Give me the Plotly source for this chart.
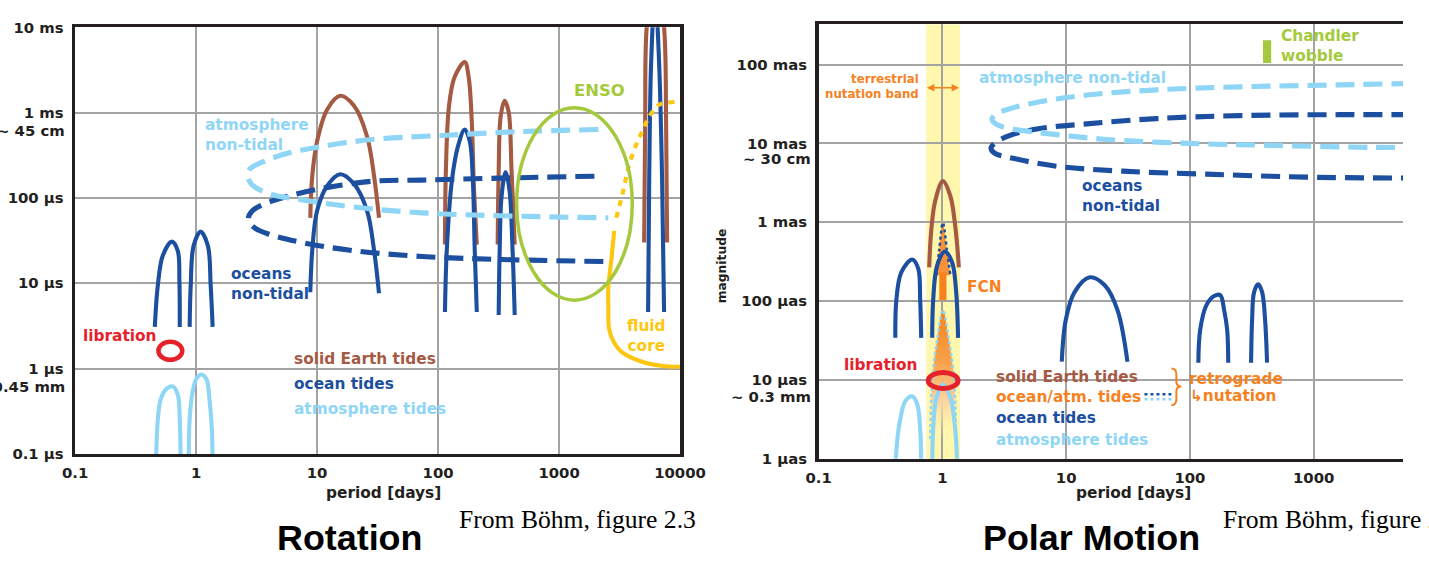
import plotly.graph_objects as go

W, H = 1429, 565

# ---------------- Rotation panel: period [days], amplitude [microseconds] ----------------
rot_tickvals = [0.1, 1, 10, 100, 1000, 10000]
rot_x_ticktext = ["0.1", "1", "10", "100", "1000", "10000"]
rot_y_ticktext = ["0.1 µs", "1 µs", "10 µs", "100 µs", "1 ms", "10 ms"]

# ocean tides
rot_ot_sd_p = [0.456, 0.483, 0.531, 0.630, 0.705, 0.728, 0.733]
rot_ot_sd_a = [3.08, 9.5, 21.2, 30.8, 24.2, 10.8, 3.08]
rot_ot_d_p = [0.885, 0.903, 0.955, 1.09, 1.25, 1.32, 1.37]
rot_ot_d_a = [3.08, 9.5, 27.7, 40.3, 27.7, 9.5, 3.08]
rot_ot_fm_p = [8.79, 9.12, 10.0, 12.1, 15.5, 20.2, 25.9, 29.6, 32.5]
rot_ot_fm_a = [7.86, 24.2, 70.6, 138, 190, 146, 70.6, 24.2, 7.65]
rot_ot_sa_p = [114, 118, 130, 146, 166, 183, 194, 201, 209]
rot_ot_sa_a = [4.6, 24.2, 158, 402, 634, 460, 158, 24.2, 4.6]
rot_ot_a_p = [317, 323, 335, 362, 390, 413, 430]
rot_ot_a_a = [4.25, 24.2, 105, 201, 121, 24.2, 4.25]
rot_ot_ln_p = [5445, 5560, 5770, 6220, 6710, 7110, 7380]
rot_ot_ln_a = [4.6, 158, 3920, 25500, 3920, 158, 4.6]
# solid Earth tides
rot_se_fm_p = [8.79, 9.12, 10.0, 12.1, 15.5, 20.2, 25.9, 29.6, 32.5]
rot_se_fm_a = [58.5, 180, 460, 1084, 1577, 1206, 526, 180, 58.5]
rot_se_sa_p = [114, 116, 123, 137, 166, 179, 190, 197, 209]
rot_se_sa_a = [28.4, 206, 1175, 2620, 3920, 2620, 786, 158, 28.4]
rot_se_a_p = [311, 317, 329, 355, 383, 405, 430]
rot_se_a_a = [28.4, 206, 898, 1379, 1028, 206, 28.4]
rot_se_ln_p = [5050, 5150, 5300, 6220, 7380, 7670, 7820]
rot_se_ln_a = [30, 786, 10000, 57000, 10000, 786, 30]
# atmosphere tides
rot_at_sd_p = [0.465, 0.483, 0.510, 0.562, 0.641, 0.705, 0.733, 0.746]
rot_at_sd_a = [0.067, 0.255, 0.437, 0.570, 0.618, 0.499, 0.255, 0.067]
rot_at_d_p = [0.869, 0.885, 0.938, 1.01, 1.11, 1.22, 1.29, 1.35, 1.37]
rot_at_d_a = [0.067, 0.255, 0.541, 0.766, 0.851, 0.745, 0.437, 0.195, 0.067]
# non-tidal loops
rot_atm_nt_p = [2113, 490, 107, 28.5, 11.0, 5.69, 3.67, 2.82, 2.66, 2.92, 4.12, 7.55, 19.5, 73.6, 335, 2553]
rot_atm_nt_a = [634, 601, 540, 485, 402, 334, 269, 223, 185, 142, 111, 94.8, 78.6, 66.9, 61.8, 58.5]
rot_oc_nt_p = [1959, 335, 73.6, 30.2, 12.6, 6.25, 3.67, 2.92, 2.71, 3.04, 4.12, 7.55, 19.5, 73.6, 335, 2323]
rot_oc_nt_a = [180, 171, 162, 158, 134, 108, 85.1, 70.6, 57.0, 44.8, 37.1, 30.0, 24.2, 20.6, 19.0, 18.0]
# fluid core
rot_fc_dot_p = [2972, 3390, 3730, 4343, 4955, 5560, 6710, 9270, 10190]
rot_fc_dot_a = [58.5, 121, 223, 424, 634, 898, 1239, 1343, 1379]
rot_fc_p = [2858, 2702, 2553, 2553, 2600, 2858, 3266, 4775, 6970, 10190]
rot_fc_a = [41.3, 18.5, 8.98, 5.85, 2.84, 2.01, 1.58, 1.21, 1.08, 1.05]
# ENSO and libration outlines (bounding periods / amplitudes)
rot_enso_p = [446, 4027]
rot_enso_a = [6.34, 1143]
rot_lib_p = [0.488, 0.769]
rot_lib_a = [1.27, 2.06]

# ---------------- Polar motion panel: period [days], amplitude [micro-arcseconds] ----------------
pm_x_tickvals = [0.1, 1, 10, 100, 1000]
pm_x_ticktext = ["0.1", "1", "10", "100", "1000"]
pm_y_tickvals = [1, 10, 100, 1000, 10000, 100000]
pm_y_ticktext = ["1 µas", "10 µas", "100 µas", "1 mas", "10 mas", "100 mas"]

pm_ot_sd_p = [0.417, 0.425, 0.466, 0.571, 0.638, 0.662, 0.675]
pm_ot_sd_a = [33.9, 102, 230, 335, 258, 102, 33.9]
pm_ot_d_p = [0.828, 0.843, 0.908, 1.05, 1.20, 1.29, 1.34]
pm_ot_d_a = [33.9, 102, 282, 423, 307, 136, 33.9]
pm_ot_fm_p = [9.22, 9.93, 11.7, 15.5, 20.5, 26.0, 31.3]
pm_ot_fm_a = [16.9, 57.1, 129, 199, 158, 76.4, 16.9]
pm_ot_sa_p = [117, 121, 136, 157, 176, 189, 200, 204]
pm_ot_sa_a = [16.4, 42.8, 88.3, 115, 118, 76.4, 42.8, 16.4]
pm_ot_a_p = [312, 318, 330, 356, 383, 405, 420]
pm_ot_a_a = [16.4, 57.1, 129, 162, 129, 57.1, 16.4]
pm_ot_ln_p = [5520, 5630, 5950, 6410, 6780, 7030, 7160]
pm_ot_ln_a = [13.4, 57.1, 182, 251, 182, 57.1, 13.4]
pm_se_d_p = [0.783, 0.813, 0.875, 1.01, 1.16, 1.27, 1.36]
pm_se_d_a = [266, 777, 1855, 3311, 2143, 898, 266]
pm_oa_up_p = [0.891, 0.942, 1.01, 1.09, 1.16]
pm_oa_up_a = [211, 435, 980, 435, 211]
pm_oa_lo_p = [0.798, 0.813, 0.843, 0.908, 1.01, 1.13, 1.22, 1.27, 1.29]
pm_oa_lo_a = [1.76, 5.62, 13.4, 32.0, 76.4, 32.0, 13.4, 5.62, 1.76]
pm_at_sd_p = [0.417, 0.433, 0.457, 0.501, 0.571, 0.627, 0.662, 0.675]
pm_at_sd_a = [0.738, 1.76, 3.14, 5.30, 6.13, 4.86, 2.35, 0.738]
pm_at_d_p = [0.828, 0.843, 0.891, 1.01, 1.16, 1.27, 1.32]
pm_at_d_a = [0.738, 2.35, 5.62, 8.67, 5.95, 2.35, 0.738]
pm_fcn_p = [1.01, 1.01]
pm_fcn_a = [102, 230]
pm_cw_p = [420, 420]
pm_cw_a = [104400, 203600]
pm_atm_nt_p = [10190, 1596, 250, 53.6, 15.5, 6.12, 3.52, 2.66, 2.52, 2.76, 3.52, 8.40, 21.2, 98.9, 461, 2944, 10190]
pm_atm_nt_a = [58500, 55200, 52100, 47700, 41300, 33700, 27500, 23100, 20000, 17300, 15400, 12900, 11200, 9970, 9410, 8880, 8880]
pm_oc_nt_p = [10190, 1596, 250, 53.6, 15.5, 6.12, 3.52, 2.71, 2.47, 2.66, 3.72, 8.40, 28.6, 136, 865, 10190]
pm_oc_nt_a = [23100, 23100, 22500, 20600, 17800, 15400, 12600, 10300, 8630, 7460, 6450, 5120, 4430, 4060, 3720, 3610]
pm_lib_p = [0.769, 1.34]
pm_lib_a = [7.73, 12.3]
pm_band_p = [0.741, 1.39]

# ---------------- styles ----------------
DB = "#1c4f9f"
LB = "#8fd6f6"
BR = "#a55a44"
RED = "#e5222b"
GRN = "#a5c93c"
YEL = "#fdc70f"
ORG = "#f5821f"
BAND = "#fff7ae"
GRID = "#a3a3a3"
AX = "#231f20"
SANS = "DejaVu Sans"
TITLE = "Liberation Sans, Arial"
SERIF = "Liberation Serif, Times New Roman"
DASH = "19px,9px"

# framing of the photographed page (page -> picture: offset + scale)
OX, OY, S = 9.7, 6.5, 0.976


def PX(x):
    return ((x - OX) / S) / W


def PY(y):
    return 1 - ((y - OY) / S) / H


def F(size):
    return size / S


def curve(x, y, color, width=4, xa="x", ya="y", dash=None, smooth=1.0):
    return go.Scatter(x=x, y=y, mode="lines", xaxis=xa, yaxis=ya, hoverinfo="skip",
                      showlegend=False,
                      line=dict(color=color, width=F(width), dash=dash, shape="spline",
                                smoothing=smooth))


fig = go.Figure()

# Rotation traces
for p, a in [(rot_se_fm_p, rot_se_fm_a), (rot_se_sa_p, rot_se_sa_a),
             (rot_se_a_p, rot_se_a_a), (rot_se_ln_p, rot_se_ln_a)]:
    fig.add_trace(curve(p, a, BR))
for p, a in [(rot_ot_sd_p, rot_ot_sd_a), (rot_ot_d_p, rot_ot_d_a), (rot_ot_fm_p, rot_ot_fm_a),
             (rot_ot_sa_p, rot_ot_sa_a), (rot_ot_a_p, rot_ot_a_a), (rot_ot_ln_p, rot_ot_ln_a)]:
    fig.add_trace(curve(p, a, DB))
for p, a in [(rot_at_sd_p, rot_at_sd_a), (rot_at_d_p, rot_at_d_a)]:
    fig.add_trace(curve(p, a, LB))
fig.add_trace(curve(rot_oc_nt_p, rot_oc_nt_a, DB, width=5, dash=DASH))
fig.add_trace(curve(rot_atm_nt_p, rot_atm_nt_a, LB, width=5, dash=DASH))
fig.add_trace(curve(rot_fc_dot_p, rot_fc_dot_a, YEL, width=4, dash="6px,6px"))
fig.add_trace(curve(rot_fc_p, rot_fc_a, YEL, width=4))

# Polar motion traces
fig.add_trace(go.Scatter(x=pm_oa_up_p, y=pm_oa_up_a, xaxis="x2", yaxis="y2", mode="lines",
                         fill="toself", fillcolor="#f7913a", hoverinfo="skip", showlegend=False,
                         line=dict(color=DB, width=2.5, dash="dot", shape="spline")))
fig.add_trace(go.Scatter(x=pm_oa_lo_p, y=pm_oa_lo_a, xaxis="x2", yaxis="y2", mode="lines",
                         fill="toself", hoverinfo="skip", showlegend=False,
                         fillgradient=dict(type="vertical",
                                           colorscale=[[0, "rgba(255,247,174,0)"], [0.3, "#fbd3a0"],
                                                       [0.6, "#f8a14a"], [1, ORG]]),
                         line=dict(color=LB, width=2.5, dash="dot", shape="spline")))
fig.add_trace(curve(pm_se_d_p, pm_se_d_a, BR, xa="x2", ya="y2"))
for p, a in [(pm_ot_sd_p, pm_ot_sd_a), (pm_ot_d_p, pm_ot_d_a), (pm_ot_fm_p, pm_ot_fm_a),
             (pm_ot_sa_p, pm_ot_sa_a), (pm_ot_a_p, pm_ot_a_a), (pm_ot_ln_p, pm_ot_ln_a)]:
    fig.add_trace(curve(p, a, DB, xa="x2", ya="y2"))
for p, a in [(pm_at_sd_p, pm_at_sd_a), (pm_at_d_p, pm_at_d_a)]:
    fig.add_trace(curve(p, a, LB, xa="x2", ya="y2"))
fig.add_trace(curve(pm_fcn_p, pm_fcn_a, ORG, width=7, xa="x2", ya="y2", smooth=0))
fig.add_trace(curve(pm_cw_p, pm_cw_a, GRN, width=8, xa="x2", ya="y2", smooth=0))
fig.add_trace(curve(pm_oc_nt_p, pm_oc_nt_a, DB, width=5, xa="x2", ya="y2", dash=DASH))
fig.add_trace(curve(pm_atm_nt_p, pm_atm_nt_a, LB, width=5, xa="x2", ya="y2", dash=DASH))

tickfont = dict(family=SANS, size=F(14.5), color=AX)


def bold(lst):
    return ["<b>%s</b>" % t for t in lst]


axis_common = dict(type="log", showgrid=True, gridcolor=GRID, gridwidth=2, showline=True,
                   linecolor=AX, linewidth=3.5, ticks="", zeroline=False, tickfont=tickfont)

# right panel: the picture ends inside the 1000..10000 decade
pm_x_end = -1 + ((OX + S * W) - 818) / 124.2

fig.update_layout(
    width=W, height=H, margin=dict(l=0, r=0, t=0, b=0),
    paper_bgcolor="white", plot_bgcolor="white", showlegend=False,
    xaxis=dict(domain=[PX(72), PX(679)], range=[-1, 4], tickvals=rot_tickvals,
               ticktext=bold(rot_x_ticktext), anchor="y", mirror=True, ticklabelstandoff=3,
               **axis_common),
    yaxis=dict(domain=[PY(455), PY(25)], range=[-1, 4], tickvals=rot_tickvals,
               ticktext=bold(rot_y_ticktext), anchor="x", mirror=True, ticklabelstandoff=5,
               **axis_common),
    xaxis2=dict(domain=[PX(818), 1], range=[-1, pm_x_end], tickvals=pm_x_tickvals,
                ticktext=bold(pm_x_ticktext), anchor="y2", mirror=True, ticklabelstandoff=3,
                **axis_common),
    yaxis2=dict(domain=[PY(460), PY(22)], range=[-0.006, 5.51], tickvals=pm_y_tickvals,
                ticktext=bold(pm_y_ticktext), anchor="x2", mirror=False, ticklabelstandoff=5,
                **axis_common),
)

shapes = []
# nutation band
shapes.append(dict(type="rect", xref="x2", yref="y2 domain", x0=pm_band_p[0], x1=pm_band_p[1],
                   y0=0, y1=1, fillcolor=BAND, line=dict(width=0), layer="below"))
# white label backgrounds that interrupt the grid
for x0, x1, y0, y1 in [(280, 526, 345, 424), (220, 305, 266, 302), (983, 1308, 360, 453),
                       (973, 1168, 65, 88), (1277, 1362, 26, 60)]:
    shapes.append(dict(type="rect", xref="paper", yref="paper", x0=PX(x0), x1=PX(x1),
                       y0=PY(y1), y1=PY(y0), fillcolor="white", line=dict(width=0),
                       layer="between"))
# ENSO and libration outlines
shapes.append(dict(type="circle", xref="x", yref="y", x0=rot_enso_p[0], x1=rot_enso_p[1],
                   y0=rot_enso_a[0], y1=rot_enso_a[1], line=dict(color=GRN, width=3.5)))
shapes.append(dict(type="circle", xref="x", yref="y", x0=rot_lib_p[0], x1=rot_lib_p[1],
                   y0=rot_lib_a[0], y1=rot_lib_a[1], line=dict(color=RED, width=4.5)))
shapes.append(dict(type="circle", xref="x2", yref="y2", x0=pm_lib_p[0], x1=pm_lib_p[1],
                   y0=pm_lib_a[0], y1=pm_lib_a[1], line=dict(color=RED, width=5)))
# legend glyph for the dotted ocean/atm. outline
shapes.append(dict(type="line", xref="paper", yref="paper", x0=PX(1145), x1=PX(1172),
                   y0=PY(395), y1=PY(395), line=dict(color=DB, width=2.5, dash="dot")))
shapes.append(dict(type="line", xref="paper", yref="paper", x0=PX(1145), x1=PX(1172),
                   y0=PY(400), y1=PY(400), line=dict(color=LB, width=2.5, dash="dot")))


def pt(x, y):
    return "%.5f,%.5f" % (PX(x), PY(y))


brace = ("M " + pt(1172, 369) + " Q " + pt(1177, 369) + " " + pt(1177, 375) +
         " L " + pt(1177, 382) + " Q " + pt(1177, 387) + " " + pt(1182, 387) +
         " Q " + pt(1177, 387) + " " + pt(1177, 392) + " L " + pt(1177, 400) +
         " Q " + pt(1177, 406) + " " + pt(1172, 406))
shapes.append(dict(type="path", xref="paper", yref="paper", path=brace,
                   line=dict(color=ORG, width=2)))
fig.update_layout(shapes=shapes)

ann = []


def txt(s, x, y, color, size=15, xanchor="left", family=SANS, b=True, **kw):
    ann.append(dict(text=("<b>%s</b>" % s) if b else s, x=PX(x), y=PY(y), xref="paper",
                    yref="paper", xanchor=xanchor, yanchor="middle", showarrow=False,
                    align=xanchor if xanchor != "center" else "center",
                    font=dict(family=family, size=F(size), color=color), **kw))


# secondary tick lines
txt("~ 45 cm", 64, 129, AX, 14.5, "right")
txt("~ 0.45 mm", 64, 388, AX, 14.5, "right")
txt("~ 30 cm", 812, 158, AX, 14.5, "right")
txt("~ 0.3 mm", 812, 398, AX, 14.5, "right")
# axis titles
txt("period [days]", 381, 494, AX, 15, "center")
txt("period [days]", 1134, 494, AX, 15, "center")
ann.append(dict(text="<b>magnitude</b>", x=PX(722), y=PY(265), xref="paper", yref="paper",
                textangle=-90, showarrow=False, xanchor="center", yanchor="middle",
                font=dict(family=SANS, size=F(12), color=AX)))
# Rotation labels
txt("atmosphere<br>non-tidal", 200, 134, LB)
txt("oceans<br>non-tidal", 226, 284, DB)
txt("libration", 78, 336, RED)
txt("ENSO", 598, 89, GRN, 16, "center")
txt("fluid<br>core", 645, 336, YEL, 15, "center")
txt("solid Earth tides", 290, 359, BR)
txt("ocean tides", 290, 385, DB)
txt("atmosphere tides", 290, 410, LB)
# Polar motion labels
txt("terrestrial<br>nutation band", 921, 85, ORG, 11.5, "right")
ann.append(dict(text="", x=PX(959), y=PY(86), xref="paper", yref="paper", ax=-33 / S, ay=0,
                axref="pixel", ayref="pixel", showarrow=True, arrowhead=2, arrowside="end+start",
                arrowsize=1, arrowwidth=1.5, arrowcolor=ORG, standoff=0, startstandoff=0))
txt("atmosphere non-tidal", 977, 76, LB)
txt("oceans<br>non-tidal", 1080, 195, DB)
txt("Chandler<br>wobble", 1280, 44, GRN)
txt("FCN", 965, 287, ORG)
txt("libration", 842, 365, RED)
txt("solid Earth tides", 994, 377, BR)
txt("ocean/atm. tides", 994, 398, ORG)
txt("ocean tides", 994, 419, DB)
txt("atmosphere tides", 994, 441, LB)
txt("retrograde", 1188, 380, ORG)
txt("↳nutation", 1189, 397, ORG)
# titles and credits
txt("Rotation", 347, 540, "#000000", 35, "center", TITLE)
txt("Polar Motion", 1092, 540, "#000000", 35, "center", TITLE)
txt("From Böhm, figure 2.3", 455, 521, "#000000", 25, "left", SERIF, b=False)
txt("From Böhm, figure 2.3", 1222, 521, "#000000", 25, "left", SERIF, b=False)
fig.update_layout(annotations=ann)

fig.write_html(
    "out.html",
    config={"displayModeBar": False, "staticPlot": True},
    post_script=(
        "document.documentElement.style.overflow='hidden';"
        "document.body.style.margin='0';"
        "document.body.style.overflow='hidden';"
    ),
)
